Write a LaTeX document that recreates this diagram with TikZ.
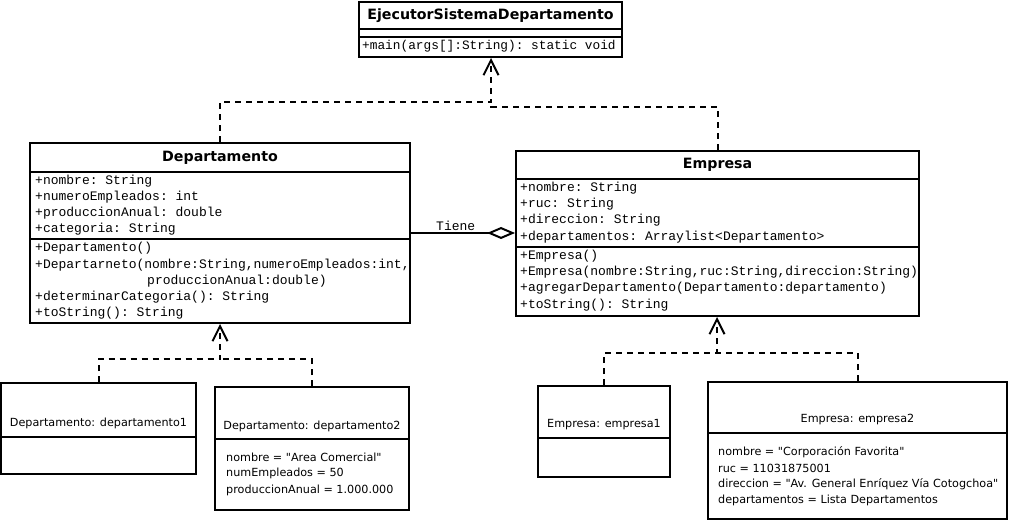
\documentclass[tikz,border=0pt]{standalone}
\usepackage{fontspec}
\setmainfont{DejaVu Sans}
\setmonofont{Liberation Mono}
\usetikzlibrary{arrows.meta}

\tikzset{
  box/.style={draw, line width=2pt, inner sep=0pt},
  sepline/.style={line width=2pt},
  title/.style={inner sep=0pt, font=\bfseries\fontsize{14.2}{14.2}\selectfont},
  member/.style={anchor=west, inner sep=0pt, font=\ttfamily\fontsize{13}{13}\selectfont},
  objname/.style={inner sep=0pt, font=\fontsize{11.2}{11.2}\selectfont},
  objval/.style={anchor=west, inner sep=0pt, font=\fontsize{11.2}{11.2}\selectfont},
  dep/.style={line width=2pt, dash pattern=on 6pt off 5pt},
  deparrow/.style={dep, -{Straight Barb[length=15pt, width=15pt, line width=2pt]}},
  agg/.style={line width=2pt, -{Diamond[open, length=28pt, width=12pt, line width=2pt]}}
}

\begin{document}
\begin{tikzpicture}[x=1pt, y=-1pt]
\useasboundingbox (0,0) rectangle (1009,521);

% clases
\node[box, minimum width=263pt, minimum height=55pt] (ejec) at (490.5,29.5) {};
\draw[sepline] (359,29) -- (622,29);
\draw[sepline] (359,37) -- (622,37);
\node[title] (ejectit) at (490.5,16) {EjecutorSistemaDepartamento};
\begin{scope}
  \clip (359,37) rectangle (621,57);
  \node[member, font=\ttfamily\fontsize{12.8}{12.8}\selectfont] (ejecm1) at (362,46) {+main(args[]:String): static void};
\end{scope}

\node[box, minimum width=380pt, minimum height=180pt] (depto) at (220,233) {};
\draw[sepline] (30,172) -- (410,172);
\draw[sepline] (30,239) -- (410,239);
\node[title] (deptotit) at (220,158) {Departamento};
\node[member] (deptoa1) at (35,181) {+nombre: String};
\node[member] (deptoa2) at (35,197) {+numeroEmpleados: int};
\node[member] (deptoa3) at (35,213) {+produccionAnual: double};
\node[member] (deptoa4) at (35,229) {+categoria: String};
\node[member] (deptom1) at (35,248) {+Departamento()};
\node[member] (deptom2) at (35,265) {+Departarneto(nombre:String,numeroEmpleados:int,};
\node[member] (deptom3) at (147,281) {produccionAnual:double)};
\node[member] (deptom4) at (35,297) {+determinarCategoria(): String};
\node[member] (deptom5) at (35,313) {+toString(): String};

\node[box, minimum width=403pt, minimum height=165pt] (emp) at (717.5,233.5) {};
\draw[sepline] (516,179) -- (919,179);
\draw[sepline] (516,247) -- (919,247);
\node[title] (emptit) at (717.5,165) {Empresa};
\node[member] (empa1) at (520,188) {+nombre: String};
\node[member] (empa2) at (520,204) {+ruc: String};
\node[member] (empa3) at (520,220) {+direccion: String};
\node[member] (empa4) at (520,237) {+departamentos: Arraylist<Departamento>};
\node[member] (empm1) at (520,256) {+Empresa()};
\node[member] (empm2) at (520,272) {+Empresa(nombre:String,ruc:String,direccion:String)};
\node[member] (empm3) at (520,288) {+agregarDepartamento(Departamento:departamento)};
\node[member] (empm4) at (520,305) {+toString(): String};

% objetos
\node[box, minimum width=195pt, minimum height=91pt] (depto1) at (98.5,428.5) {};
\draw[sepline] (1,437) -- (196,437);
\node[objname] (depto1tit) at (98.5,423) {Departamento: departamento1};

\node[box, minimum width=194pt, minimum height=123pt] (depto2) at (312,448.5) {};
\draw[sepline] (215,439) -- (409,439);
\node[objname] (depto2tit) at (312,426) {Departamento: departamento2};
\node[objval] (depto2v1) at (226,457) {nombre = \textquotedbl Area Comercial\textquotedbl};
\node[objval] (depto2v2) at (226,473) {numEmpleados = 50};
\node[objval] (depto2v3) at (226,490) {produccionAnual = 1.000.000};

\node[box, minimum width=132pt, minimum height=91pt] (emp1) at (604,431.5) {};
\draw[sepline] (538,438) -- (670,438);
\node[objname] (emp1tit) at (604,425) {Empresa: empresa1};

\node[box, minimum width=299pt, minimum height=137pt] (emp2) at (857.5,450.5) {};
\draw[sepline] (708,433) -- (1007,433);
\node[objname] (emp2tit) at (857.5,420) {Empresa: empresa2};
\node[objval] (emp2v1) at (718,452) {nombre = \textquotedbl Corporación Favorita\textquotedbl};
\node[objval] (emp2v2) at (718,468) {ruc = 11031875001};
\node[objval] (emp2v3) at (718,484) {direccion = \textquotedbl Av. General Enríquez Vía Cotogchoa\textquotedbl};
\node[objval] (emp2v4) at (718,500) {departamentos = Lista Departamentos};

% relaciones
\coordinate (up1) at (491,102);
\coordinate (up2) at (491,107);
\draw[dep] (emp.north) |- (up2) -- (up1);
\draw[deparrow] (depto.north) |- (up1) -- (ejec.south -| up1);

\coordinate (dj1) at (220,359);
\draw[dep] (depto2.north) |- (dj1);
\draw[deparrow] (depto1.north) |- (dj1) -- (depto.south);

\coordinate (ej1) at (717,353);
\draw[dep] (emp2.north) |- (ej1);
\draw[deparrow] (emp1.north) |- (ej1) -- (emp.south -| ej1);

\draw[agg] (depto.east |- 0,233) -- (emp.west |- 0,233)
  node[pos=0.43, above=1pt, member, anchor=south] (tiene) {Tiene};
\end{tikzpicture}
\end{document}
